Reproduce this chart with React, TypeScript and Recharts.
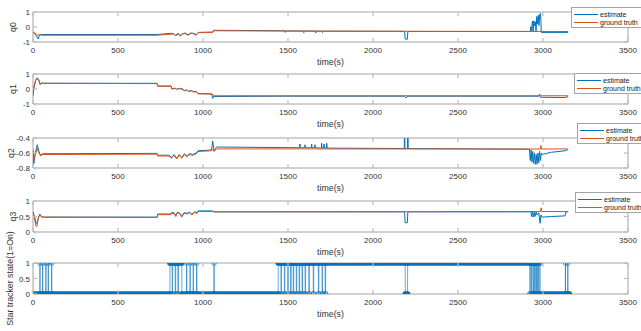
import React from "react";
import { ComposedChart, Line, XAxis, YAxis, ReferenceArea, Legend } from "recharts";

// time axis
const timeTicks = [0, 500, 1000, 1500, 2000, 2500, 3000, 3500];

// [time(s), value]
const q0Estimate = [
  [0, -0.3], [8, -0.45], [18, -0.55], [30, -0.8], [38, -0.55], [48, -0.5], [60, -0.5], [730, -0.5],
  [812, -0.42], [828, -0.45], [840, -0.55], [852, -0.42], [866, -0.56], [880, -0.45], [896, -0.4],
  [912, -0.52], [928, -0.4], [944, -0.42], [960, -0.52], [972, -0.36], [1040, -0.34], [1057, -0.34],
  [1062, -0.22], [1480, -0.25], [1483, -0.36], [1486, -0.26], [1590, -0.27], [1593, -0.38], [1596, -0.27],
  [1660, -0.27], [1663, -0.4], [1666, -0.28], [1700, -0.28], [1703, -0.37], [1706, -0.28], [2186, -0.29],
  [2189, -0.8], [2202, -0.82], [2205, -0.3], [2920, -0.3], [2924, -0.3], [2928, 0.02], [2932, -0.3],
  [2938, 0.4], [2942, -0.3], [2946, 0.42], [2950, 0.1], [2955, 0.35], [2959, -0.3], [2963, 0.7],
  [2967, 0.2], [2972, 0.78], [2976, 0.1], [2981, 0.85], [2986, 0.9], [2990, -0.36], [3148, -0.36],
];
const q0Truth = [
  [0, -0.35], [10, -0.4], [20, -0.48], [30, -0.55], [40, -0.5], [50, -0.55], [730, -0.55],
  [812, -0.48], [828, -0.47], [840, -0.6], [852, -0.46], [866, -0.6], [880, -0.47], [896, -0.44],
  [912, -0.56], [928, -0.43], [944, -0.45], [960, -0.55], [972, -0.38], [1057, -0.36], [1062, -0.25],
  [1500, -0.27], [2500, -0.29], [3148, -0.3],
];

const q1Estimate = [
  [0, -0.45], [6, 0.1], [15, 0.55], [25, 0.75], [33, 0.65], [42, 0.3], [50, 0.42], [60, 0.38],
  [730, 0.38], [734, 0.2], [812, 0.2], [816, 0.03], [840, 0.05], [846, -0.02], [860, 0.05], [880, 0.0],
  [890, -0.1], [905, -0.06], [915, -0.15], [930, -0.1], [945, -0.18], [960, -0.16], [971, -0.3],
  [1050, -0.32], [1057, -0.62], [1062, -0.5], [1500, -0.48], [2186, -0.48], [2190, -0.56], [2200, -0.56],
  [2204, -0.48], [2975, -0.48], [2980, -0.34], [2985, -0.55], [3130, -0.57], [3148, -0.5],
];
const q1Truth = [
  [0, -0.3], [8, 0.3], [18, 0.65], [25, 0.68], [35, 0.55], [42, 0.3], [50, 0.38], [730, 0.36],
  [734, 0.18], [812, 0.18], [816, 0.0], [840, 0.03], [846, -0.04], [860, 0.03], [880, -0.03],
  [890, -0.12], [905, -0.08], [915, -0.17], [930, -0.12], [945, -0.2], [960, -0.18], [971, -0.32],
  [1057, -0.34], [1062, -0.45], [3148, -0.45],
];

const q2Estimate = [
  [0, -0.56], [5, -0.74], [12, -0.62], [25, -0.49], [35, -0.58], [45, -0.64], [55, -0.61], [730, -0.605],
  [734, -0.63], [800, -0.63], [815, -0.66], [830, -0.62], [845, -0.67], [860, -0.62], [875, -0.66],
  [890, -0.61], [905, -0.64], [920, -0.61], [940, -0.62], [960, -0.6], [971, -0.57], [1050, -0.56],
  [1057, -0.44], [1065, -0.57], [1080, -0.52], [1568, -0.53], [1570, -0.48], [1572, -0.53], [1598, -0.53],
  [1600, -0.49], [1602, -0.53], [1637, -0.53], [1639, -0.48], [1641, -0.53], [1657, -0.53], [1659, -0.49],
  [1661, -0.53], [1696, -0.535], [1698, -0.47], [1700, -0.535], [1710, -0.535], [1712, -0.48],
  [1714, -0.535], [1726, -0.535], [1728, -0.47], [1730, -0.535], [2184, -0.54], [2186, -0.3],
  [2188, -0.54], [2203, -0.54], [2205, -0.3], [2207, -0.54], [2920, -0.55], [2925, -0.7], [2930, -0.56],
  [2935, -0.72], [2940, -0.58], [2945, -0.74], [2950, -0.6], [2955, -0.75], [2960, -0.62], [2965, -0.75],
  [2970, -0.6], [2975, -0.73], [2980, -0.58], [2985, -0.7], [2990, -0.6], [2993, -0.62], [3050, -0.59],
  [3130, -0.57], [3148, -0.555],
];
const q2Truth = [
  [0, -0.55], [5, -0.7], [12, -0.63], [25, -0.54], [35, -0.6], [45, -0.63], [55, -0.62], [730, -0.615],
  [734, -0.64], [800, -0.64], [815, -0.67], [830, -0.63], [845, -0.68], [860, -0.63], [875, -0.67],
  [890, -0.62], [905, -0.65], [920, -0.62], [940, -0.63], [960, -0.61], [971, -0.58], [1050, -0.57],
  [1057, -0.55], [1065, -0.58], [1080, -0.545], [2985, -0.547], [2988, -0.5], [2992, -0.547],
  [3148, -0.545],
];

const q3Estimate = [
  [0, 0.65], [8, 0.52], [18, 0.28], [24, 0.3], [32, 0.45], [40, 0.58], [50, 0.5], [60, 0.48],
  [730, 0.48], [734, 0.58], [812, 0.58], [816, 0.63], [830, 0.62], [840, 0.53], [850, 0.64], [865, 0.6],
  [875, 0.5], [890, 0.63], [905, 0.6], [920, 0.64], [935, 0.57], [950, 0.65], [965, 0.62], [971, 0.68],
  [1057, 0.68], [1062, 0.65], [2186, 0.65], [2189, 0.3], [2202, 0.3], [2205, 0.65], [2930, 0.65],
  [2932, 0.5], [2940, 0.65], [2942, 0.48], [2950, 0.64], [2952, 0.5], [2960, 0.64], [2965, 0.55],
  [2975, 0.62], [2983, 0.28], [2988, 0.55], [2993, 0.48], [3050, 0.5], [3130, 0.52], [3135, 0.65],
  [3148, 0.65],
];
const q3Truth = [
  [0, 0.65], [8, 0.45], [18, 0.18], [24, 0.2], [32, 0.5], [40, 0.55], [50, 0.48], [730, 0.47],
  [734, 0.56], [812, 0.56], [816, 0.61], [830, 0.6], [840, 0.5], [850, 0.62], [865, 0.58], [875, 0.48],
  [890, 0.61], [905, 0.58], [920, 0.62], [935, 0.55], [950, 0.63], [965, 0.6], [971, 0.66], [1057, 0.66],
  [1062, 0.65], [2985, 0.66], [2989, 0.78], [2993, 0.66], [3148, 0.66],
];

// star tracker: runs [start, end] where state = 1, everything else = 0
const starOnRuns = [
  [41, 41], [57, 57], [76, 76], [90, 90], [110, 110],
  [806, 818], [822, 836], [840, 852], [856, 875], [904, 904], [924, 924], [943, 943], [963, 963],
  [1065, 1065],
  [1443, 1458], [1462, 1478], [1482, 1498], [1502, 1515], [1519, 1530], [1534, 1548], [1552, 1565],
  [1569, 1582], [1586, 1600], [1604, 1622], [1626, 1648], [1652, 1678], [1682, 1700], [1704, 1718],
  [1722, 2189], [2204, 2922], [2926, 2932], [2936, 2942], [2946, 2950], [2954, 2958], [2962, 2966],
  [2970, 2974], [2978, 2983], [3132, 3132], [3146, 3146],
];
const starStart = 0;
const starEnd = 3155;
const starStep = 1;

const BLUE = "#0072BD";
const ORANGE = "#D95319";
const TEXT = "#333";
const BOX = "#a3a3a3";
const TICK = "#bdbdbd";
const FONT = '"Liberation Sans", Arial, Helvetica, sans-serif';
const W = 641;
const H = 331;
const LEFT = 33;
const RIGHT = 628;
const PLOT_W = RIGHT - LEFT;
const X_AXIS_H = 30;

const pts = (arr: number[][]) => arr.map(([t, v]) => ({ t, v }));

// path of the state line and dense bands of markers
const starPath: { t: number; v: number | null }[] = [{ t: starStart, v: 0 }];
starOnRuns.forEach(([s, e]) => {
  starPath.push({ t: s - starStep, v: 0 }, { t: s, v: 1 });
  if (e > s) starPath.push({ t: e, v: 1 });
  starPath.push({ t: e + starStep, v: 0 });
});
starPath.push({ t: starEnd, v: 0 });

const starBands: { t: number; v: number | null }[] = [];
let prevEnd = starStart - starStep;
starOnRuns.forEach(([s, e]) => {
  const offS = prevEnd + starStep;
  const offE = s - starStep;
  if (offE - offS >= 6) starBands.push({ t: offS, v: 0 }, { t: offE, v: 0 }, { t: offE, v: null });
  if (e - s >= 6) starBands.push({ t: s, v: 1 }, { t: e, v: 1 }, { t: e, v: null });
  prevEnd = e;
});
starBands.push({ t: prevEnd + starStep, v: 0 }, { t: starEnd, v: 0 });

const makeXTick = (h: number) => (props: any) => {
  const { x, y, payload } = props;
  return (
    <g>
      <line x1={x} x2={x} y1={y} y2={y - 4} stroke={TICK} strokeWidth={1.2} />
      <line x1={x} x2={x} y1={y - h} y2={y - h + 4} stroke={TICK} strokeWidth={1.2} />
      <text x={x} y={y + 11} textAnchor="middle" fontSize={8} fill={TEXT} fontFamily={FONT}>
        {payload.value}
      </text>
    </g>
  );
};

const yTick = (props: any) => {
  const { x, y, payload } = props;
  return (
    <g>
      <line x1={x} x2={x + 4} y1={y} y2={y} stroke={TICK} strokeWidth={1.2} />
      <line x1={x + PLOT_W - 4} x2={x + PLOT_W} y1={y} y2={y} stroke={TICK} strokeWidth={1.2} />
      <text x={x - 3} y={y + 3} textAnchor="end" fontSize={8} fill={TEXT} fontFamily={FONT}>
        {payload.value}
      </text>
    </g>
  );
};

const legendContent = (props: any) => (
  <div
    style={{
      width: 80,
      height: 21,
      boxSizing: "border-box",
      border: `1px solid ${BOX}`,
      background: "#fff",
      paddingTop: 2,
      fontFamily: FONT,
      fontSize: 7,
      color: "#222",
    }}
  >
    {(props.payload || []).map((p: any) => (
      <div key={p.value} style={{ display: "flex", alignItems: "center", height: 8.5, whiteSpace: "nowrap" }}>
        <span style={{ width: 24, borderTop: `1px solid ${p.color}`, margin: "0 2px 0 2px" }} />
        <span>{p.value}</span>
      </div>
    ))}
  </div>
);

type PanelProps = {
  top: number;
  bottom: number;
  domain: [number, number];
  ticks: number[];
  label: string;
  labelOffset: number;
  legend?: { left: number; top: number };
  children: React.ReactNode;
};

function Panel({ top, bottom, domain, ticks, label, labelOffset, legend, children }: PanelProps) {
  return (
    <div style={{ position: "absolute", left: 0, top: 0 }}>
      <ComposedChart
        width={W}
        height={H}
        margin={{ top, right: W - RIGHT, bottom: H - bottom - X_AXIS_H, left: 0 }}
      >
        <XAxis
          dataKey="t"
          type="number"
          domain={[0, 3500]}
          ticks={timeTicks}
          interval={0}
          allowDataOverflow
          axisLine={false}
          tickLine={false}
          tickSize={0}
          tickMargin={0}
          height={X_AXIS_H}
          tick={makeXTick(bottom - top)}
          label={{ value: "time(s)", position: "insideBottom", offset: 7, fontSize: 8.8, fill: TEXT, fontFamily: FONT }}
        />
        <YAxis
          type="number"
          domain={domain}
          ticks={ticks}
          interval={0}
          allowDataOverflow
          axisLine={false}
          tickLine={false}
          tickSize={0}
          tickMargin={0}
          width={LEFT}
          tick={yTick}
          label={{
            value: label,
            angle: -90,
            position: "insideLeft",
            offset: labelOffset,
            fontSize: 8.8,
            fill: TEXT,
            fontFamily: FONT,
            style: { textAnchor: "middle" },
          }}
        />
        <ReferenceArea x1={0} x2={3500} y1={domain[0]} y2={domain[1]} fill="none" stroke={BOX} strokeWidth={1} />
        {children}
        {legend && (
          <Legend
            layout="vertical"
            align="center"
            verticalAlign="middle"
            content={legendContent}
            wrapperStyle={{ left: legend.left, top: legend.top, width: 80 }}
          />
        )}
      </ComposedChart>
    </div>
  );
}

const qLines = (est: number[][], truth: number[][]) => [
  <Line key="e" data={pts(est)} dataKey="v" name="estimate" stroke={BLUE} strokeWidth={1} dot={false} isAnimationActive={false} />,
  <Line key="g" data={pts(truth)} dataKey="v" name="ground truth" stroke={ORANGE} strokeWidth={1} dot={false} isAnimationActive={false} />,
];

export default function App() {
  return (
    <div style={{ position: "fixed", left: 0, top: 0, width: W, height: H, overflow: "hidden", background: "#fff" }}>
      <Panel top={12} bottom={42} domain={[-1, 1]} ticks={[-1, 0, 1]} label="q0" labelOffset={13} legend={{ left: 571, top: 7 }}>
        {qLines(q0Estimate, q0Truth)}
      </Panel>
      <Panel top={74} bottom={104} domain={[-1, 1]} ticks={[-1, 0, 1]} label="q1" labelOffset={13} legend={{ left: 574, top: 73 }}>
        {qLines(q1Estimate, q1Truth)}
      </Panel>
      <Panel top={138} bottom={168} domain={[-0.8, -0.4]} ticks={[-0.8, -0.6, -0.4]} label="q2" labelOffset={11} legend={{ left: 577, top: 123 }}>
        {qLines(q2Estimate, q2Truth)}
      </Panel>
      <Panel top={201} bottom={232} domain={[0, 1]} ticks={[0, 0.5, 1]} label="q3" labelOffset={13} legend={{ left: 575, top: 192 }}>
        {qLines(q3Estimate, q3Truth)}
      </Panel>
      <Panel top={263} bottom={294} domain={[0, 1]} ticks={[0, 0.5, 1]} label="Star tracker state(1=On)" labelOffset={10}>
        <Line
          data={starBands}
          dataKey="v"
          stroke={BLUE}
          strokeWidth={5.5}
          strokeLinecap="round"
          connectNulls={false}
          dot={false}
          legendType="none"
          isAnimationActive={false}
        />
        <Line
          data={starPath}
          dataKey="v"
          stroke={BLUE}
          strokeOpacity={0.75}
          strokeWidth={0.8}
          dot={{ r: 2.4, fill: "none", stroke: BLUE, strokeWidth: 0.8, strokeOpacity: 0.8 }}
          legendType="none"
          isAnimationActive={false}
        />
      </Panel>
    </div>
  );
}
